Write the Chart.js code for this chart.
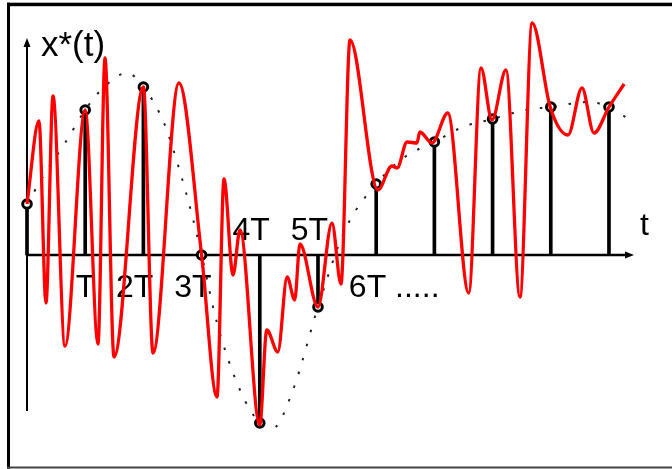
<!DOCTYPE html>
<html>
<head>
<meta charset="utf-8">
<script src="https://cdn.jsdelivr.net/npm/chart.js@4"></script>
<style>
  html, body { margin: 0; padding: 0; background: #fff; }
  canvas { display: block; }
</style>
</head>
<body>
<canvas id="c" width="672" height="469"></canvas>
<script>
// Sampling instants (multiples of the sampling period T) and sampled values x(kT)
const sampleT = [0, 1, 2, 3, 4, 5, 6, 7, 8, 9, 10];
const sampleValues = [0.51, 1.45, 1.68, 0, -1.68, -0.52, 0.71, 1.13, 1.36, 1.48, 1.48];

// Slowly varying signal x(t) (dotted)
const envelopeT = [0, 0.344, 0.653, 1.0, 1.29, 1.72, 2.0, 2.354, 2.61, 2.835, 3.0, 3.265, 3.66, 4.0, 4.227, 4.57, 5.0, 5.464, 6.0, 6.49, 7.0, 7.49, 8.0, 8.557, 9.0, 9.64, 10.0, 10.36];
const envelopeValues = [0.51, 0.85, 1.12, 1.45, 1.66, 1.82, 1.68, 1.32, 0.87, 0.40, 0, -0.68, -1.35, -1.68, -1.73, -1.35, -0.52, 0.25, 0.71, 0.98, 1.13, 1.28, 1.36, 1.45, 1.48, 1.53, 1.48, 1.35];

// Fast oscillating signal x*(t) that shares the same samples (red)
const signalT = [0, 0.206, 0.326, 0.447, 0.653, 1.0, 1.22, 1.34, 1.495, 2.0, 2.165, 2.61, 3.0, 3.265, 3.385, 3.54, 3.66, 4.0, 4.12, 4.31, 4.47, 4.60, 4.69, 5.0, 5.24, 5.395, 5.55, 6.03, 6.27, 6.36, 6.53, 6.70, 6.75, 6.96, 7.23, 7.59, 7.80, 7.99, 8.23, 8.47, 8.68, 8.99, 9.296, 9.536, 9.742, 10.0, 10.26];
const signalValues = [0.51, 1.34, -0.48, 1.59, -0.91, 1.45, -0.89, 1.97, -1.02, 1.68, -0.98, 1.72, 0, -1.42, 0.76, -0.20, 0.25, -1.70, -0.75, -0.97, -0.22, -0.45, 0.11, -0.52, 0.32, -0.29, 2.15, 0.65, 0.89, 0.87, 1.13, 1.12, 1.23, 1.12, 1.42, -0.38, 1.87, 1.35, 1.85, -0.42, 2.32, 1.48, 1.20, 1.67, 1.22, 1.48, 1.71];

// Labels
const tickLabels = ["T", "2T", "3T", "4T", "5T", "6T"];
const trailingText = " .....";
const yAxisTitle = "x*(t)";
const xAxisTitle = "t";

// Extent of the drawn axes (in axis units)
const AXIS_T_END = 10.43;
const AXIS_V_TOP = 2.17;
const AXIS_V_BOTTOM = -1.56;

const toPoints = (xs, ys) => xs.map((x, i) => ({ x: x, y: ys[i] }));

const FONT = '"Liberation Sans", Arial, Helvetica, sans-serif';

const sketch = {
  id: 'sketch',
  beforeDraw(chart) {
    const ctx = chart.ctx;
    ctx.save();
    ctx.fillStyle = '#fff';
    ctx.fillRect(0, 0, chart.width, chart.height);
    // frame
    ctx.fillStyle = '#000';
    ctx.fillRect(7, 2.7, chart.width - 7, 3.5);
    ctx.fillRect(7, 2.7, 3, chart.height - 3);
    ctx.fillStyle = '#444';
    ctx.fillRect(7, 466.5, chart.width - 7, 2);
    ctx.restore();
  },
  beforeDatasetsDraw(chart) {
    const ctx = chart.ctx;
    const xs = chart.scales.x, ys = chart.scales.y;
    const x0 = xs.getPixelForValue(0);
    const y0 = ys.getPixelForValue(0);
    const xEnd = xs.getPixelForValue(AXIS_T_END);
    const yTop = ys.getPixelForValue(AXIS_V_TOP);
    const yBot = ys.getPixelForValue(AXIS_V_BOTTOM);

    ctx.save();
    ctx.strokeStyle = '#000';
    ctx.fillStyle = '#000';
    ctx.lineWidth = 2;
    // vertical axis with arrow
    ctx.beginPath();
    ctx.moveTo(x0, yBot);
    ctx.lineTo(x0, yTop + 6);
    ctx.stroke();
    ctx.beginPath();
    ctx.moveTo(x0, yTop);
    ctx.lineTo(x0 - 3.5, yTop + 9);
    ctx.lineTo(x0 + 3.5, yTop + 9);
    ctx.closePath();
    ctx.fill();
    // horizontal axis with arrow
    ctx.lineWidth = 2.5;
    ctx.beginPath();
    ctx.moveTo(x0, y0);
    ctx.lineTo(xEnd - 6, y0);
    ctx.stroke();
    ctx.beginPath();
    ctx.moveTo(xEnd, y0);
    ctx.lineTo(xEnd - 9, y0 - 3.5);
    ctx.lineTo(xEnd - 9, y0 + 3.5);
    ctx.closePath();
    ctx.fill();

    // axis titles
    ctx.textBaseline = 'alphabetic';
    ctx.textAlign = 'left';
    ctx.font = '35px ' + FONT;
    ctx.fillText(yAxisTitle, x0 + 14, yTop + 18);
    ctx.font = '32px ' + FONT;
    ctx.fillText(xAxisTitle, xEnd + 6, y0 - 20);

    // sampling instant labels: above the axis for negative samples, below otherwise
    ctx.font = '32px ' + FONT;
    tickLabels.forEach((label, i) => {
      const k = i + 1;
      const px = xs.getPixelForValue(sampleT[k]) + 10;
      const py = sampleValues[k] < 0 ? y0 - 15 : y0 + 42;
      ctx.textAlign = 'right';
      ctx.fillText(label, px, py);
      if (i === tickLabels.length - 1) {
        ctx.textAlign = 'left';
        ctx.fillText(trailingText, px, py);
      }
    });
    ctx.restore();
  }
};

const samples = toPoints(sampleT, sampleValues);

new Chart(document.getElementById('c'), {
  type: 'line',
  data: {
    datasets: [
      {
        type: 'line',
        data: toPoints(signalT, signalValues),
        borderColor: '#ff0000',
        borderWidth: 3.3,
        pointRadius: 0,
        cubicInterpolationMode: 'monotone',
        fill: false,
        clip: false
      },
      {
        type: 'line',
        data: samples,
        showLine: false,
        pointRadius: 4.3,
        pointBorderWidth: 3,
        pointBorderColor: '#000',
        pointBackgroundColor: '#fff',
        clip: false
      },
      {
        type: 'line',
        data: toPoints(envelopeT, envelopeValues),
        borderColor: '#222',
        borderWidth: 2,
        borderDash: [2.5, 12],
        pointRadius: 0,
        cubicInterpolationMode: 'monotone',
        fill: false,
        clip: false
      },
      {
        type: 'bar',
        data: samples,
        backgroundColor: '#000',
        borderWidth: 0,
        barThickness: 3,
        clip: false
      }
    ]
  },
  options: {
    responsive: false,
    animation: false,
    events: [],
    layout: { padding: { left: 27, right: 38, top: 10, bottom: 24 } },
    plugins: { legend: { display: false }, tooltip: { enabled: false } },
    scales: {
      x: { type: 'linear', min: 0, max: AXIS_T_END, display: false, offset: false },
      y: { type: 'linear', min: -1.9, max: 2.45, display: false }
    }
  },
  plugins: [sketch]
});
</script>
</body>
</html>
